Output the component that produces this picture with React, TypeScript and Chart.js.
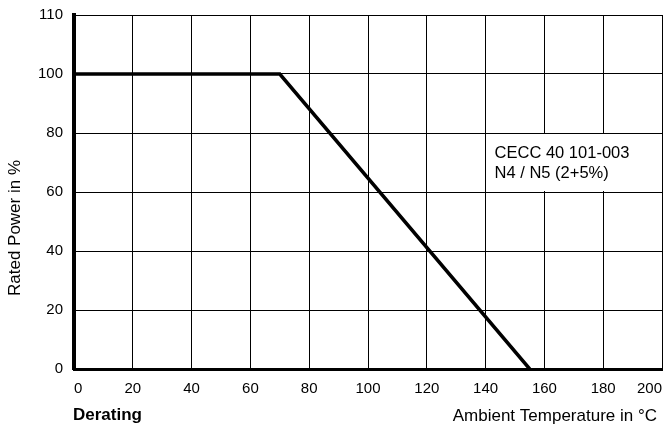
import React, { useEffect, useRef } from "react";
import { Chart, registerables } from "chart.js";

Chart.register(...registerables);

// Data
const temperatures: number[] = [0, 70, 155];
const ratedPower: number[] = [100, 100, 0];
const xTickValues: number[] = [0, 20, 40, 60, 80, 100, 120, 140, 160, 180, 200];
const yTickLabels: string[] = ["0", "20", "40", "60", "80", "100", "110"];
const yTitle = "Rated Power in %";
const xTitle = "Ambient Temperature in °C";
const cornerLabel = "Derating";
const noteLines: string[] = ["CECC 40 101-003", "N4 / N5 (2+5%)"];

const FONT = "'Liberation Sans', Arial, Helvetica, sans-serif";

const textPlugin = {
  id: "deratingText",
  afterDraw(chart: any) {
    const { ctx, scales } = chart;
    const xs = scales.x;
    const ys = scales.y;
    ctx.save();
    // annotation box
    const bx0 = xs.getPixelForValue(140) + 1;
    const bx1 = xs.getPixelForValue(200) - 1;
    const by0 = ys.getPixelForValue(80) + 1;
    const by1 = ys.getPixelForValue(60) - 1;
    ctx.fillStyle = "#fff";
    ctx.fillRect(bx0, by0, bx1 - bx0, by1 - by0);
    ctx.fillStyle = "#000";
    ctx.font = `16.5px ${FONT}`;
    ctx.textAlign = "left";
    ctx.textBaseline = "middle";
    noteLines.forEach((t, i) => {
      ctx.fillText(t, bx0 + 8, by0 + 19 + i * 20);
    });
    // bottom texts
    ctx.font = `bold 17px ${FONT}`;
    ctx.fillText(cornerLabel, xs.left - 1, 415);
    ctx.font = `17px ${FONT}`;
    ctx.textAlign = "right";
    ctx.fillText(xTitle, xs.right - 5, 416);
    // y title
    ctx.translate(15, 228);
    ctx.rotate(-Math.PI / 2);
    ctx.textAlign = "center";
    ctx.fillText(yTitle, 0, 0);
    ctx.restore();
  },
};

export default function App() {
  const ref = useRef<HTMLCanvasElement | null>(null);
  useEffect(() => {
    if (!ref.current) return;
    const chart = new Chart(ref.current, {
      type: "line",
      data: {
        datasets: [
          {
            data: temperatures.map((t, i) => ({ x: t, y: ratedPower[i] })),
            borderColor: "#000",
            borderWidth: 3.5,
            pointRadius: 0,
            tension: 0,
            fill: false,
          },
        ],
      },
      options: {
        animation: false,
        responsive: false,
        maintainAspectRatio: false,
        layout: { padding: { top: 15, right: 2, left: 0, bottom: 0 } },
        plugins: { legend: { display: false }, tooltip: { enabled: false } },
        scales: {
          x: {
            type: "linear",
            min: 0,
            max: 200,
            afterBuildTicks: (s: any) => {
              s.ticks = xTickValues.map((v) => ({ value: v }));
            },
            afterFit: (s: any) => {
              s.height = 59;
              s.paddingLeft = 0;
              s.paddingRight = 0;
            },
            grid: { color: "#000", lineWidth: 1, drawTicks: false },
            border: { color: "#000", width: 3 },
            ticks: {
              color: "#000",
              font: { family: FONT, size: 15 },
              padding: 11,
              align: "inner",
              maxRotation: 0,
              autoSkip: false,
            },
          },
          y: {
            type: "linear",
            min: 0,
            max: 120,
            ticks: {
              stepSize: 20,
              color: "#000",
              font: { family: FONT, size: 15 },
              padding: 11,
              callback: (_v: any, i: number) => yTickLabels[i],
            },
            afterFit: (s: any) => {
              s.width = 74;
              s.paddingTop = 0;
              s.paddingBottom = 0;
            },
            grid: { color: "#000", lineWidth: 1, drawTicks: false },
            border: { color: "#000", width: 4 },
          },
        },
      },
      plugins: [textPlugin],
    });
    return () => chart.destroy();
  }, []);
  return (
    <div style={{ position: "absolute", left: 0, top: 0, width: 664, height: 428, background: "#fff" }}>
      <canvas ref={ref} width={664} height={428} style={{ width: 664, height: 428, display: "block" }} />
    </div>
  );
}
